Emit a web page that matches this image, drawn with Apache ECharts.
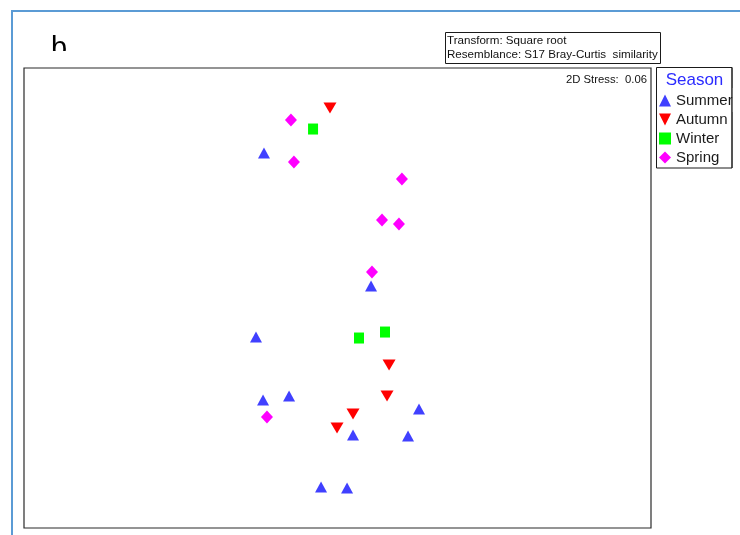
<!DOCTYPE html>
<html>
<head>
<meta charset="utf-8">
<script src="https://cdn.jsdelivr.net/npm/echarts@6/dist/echarts.min.js"></script>
<style>
  html, body { margin: 0; padding: 0; background: #fff; }
  #chart { width: 740px; height: 535px; }
</style>
</head>
<body>
<div id="chart"></div>
<script>
// nMDS ordination coordinates (dimension 1, dimension 2) per season
const seasons = ['Summer', 'Autumn', 'Winter', 'Spring'];

const summer = [
  [-0.469, 0.946], [0.214, 0.078], [-0.520, -0.254], [-0.475, -0.665],
  [-0.309, -0.639], [0.520, -0.724], [0.099, -0.894], [0.450, -0.900],
  [-0.105, -1.233], [0.061, -1.239]
];
const autumn = [
  [-0.048, 1.239], [0.329, -0.437], [0.316, -0.639], [0.099, -0.757], [-0.003, -0.848]
];
const winter = [
  [-0.156, 1.102], [0.137, -0.261], [0.303, -0.222]
];
const spring = [
  [-0.297, 1.161], [-0.278, 0.887], [0.411, 0.776], [0.284, 0.509],
  [0.392, 0.483], [0.220, 0.170], [-0.450, -0.776]
];

const stressText = '2D Stress:  0.06';
const transformLines = ['Transform: Square root', 'Resemblance: S17 Bray-Curtis  similarity'];

const FONT = '"Liberation Sans", Arial, sans-serif';
const downTriangle = 'path://M0,0 L10,0 L5,10 Z';

const chart = echarts.init(document.getElementById('chart'), null, { renderer: 'canvas' });

const hiddenAxis = (min, max) => ({
  type: 'value', min: min, max: max,
  axisLine: { show: false }, axisTick: { show: false },
  axisLabel: { show: false }, splitLine: { show: false }
});

const option = {
  backgroundColor: '#ffffff',
  animation: false,
  grid: {
    left: 24, top: 68, width: 627, height: 460,
    show: true, borderColor: '#2a2a2a', borderWidth: 1.2, backgroundColor: '#fff'
  },
  xAxis: hiddenAxis(-2, 2),
  yAxis: hiddenAxis(-1.5, 1.5),
  legend: {
    data: seasons,
    orient: 'vertical',
    left: 659, top: 93,
    itemWidth: 12, itemHeight: 12, itemGap: 4,
    padding: 0,
    textStyle: { fontSize: 15, lineHeight: 15, color: '#1a1a1a', fontFamily: FONT }
  },
  series: [
    { name: 'Summer', type: 'scatter', data: summer, symbol: 'triangle',
      symbolSize: [12, 11], itemStyle: { color: '#4040ff', opacity: 1 } },
    { name: 'Autumn', type: 'scatter', data: autumn, symbol: downTriangle,
      symbolSize: [13, 11], itemStyle: { color: '#ff0000', opacity: 1 } },
    { name: 'Winter', type: 'scatter', data: winter, symbol: 'rect',
      symbolSize: [10, 11], itemStyle: { color: '#00ff00', opacity: 1 } },
    { name: 'Spring', type: 'scatter', data: spring, symbol: 'diamond',
      symbolSize: [12, 13], itemStyle: { color: '#ff00ff', opacity: 1 } }
  ],
  graphic: [
    // outer frame
    { type: 'line', z: 50, shape: { x1: 12, y1: 11, x2: 12, y2: 535 },
      style: { stroke: '#5b9bd5', lineWidth: 2 } },
    { type: 'line', z: 50, shape: { x1: 11, y1: 11, x2: 740, y2: 11 },
      style: { stroke: '#5b9bd5', lineWidth: 2 } },
    // panel letter (lower part hidden under the frame edge)
    { type: 'text', z: 50, x: 51, y: 34,
      style: { text: 'b', fontSize: 29, fontFamily: FONT, fill: '#000', verticalAlign: 'top' } },
    { type: 'rect', z: 55, shape: { x: 40, y: 51, width: 40, height: 16 },
      style: { fill: '#fff' } },
    // transform / resemblance box
    { type: 'rect', z: 50, shape: { x: 445.5, y: 32.5, width: 215, height: 31 },
      style: { fill: '#fff', stroke: '#1a1a1a', lineWidth: 1 } },
    { type: 'text', z: 51, x: 447, y: 41,
      style: { text: transformLines[0], fontSize: 11.6, fontFamily: FONT, fill: '#111', verticalAlign: 'middle' } },
    { type: 'text', z: 51, x: 447, y: 54.5,
      style: { text: transformLines[1], fontSize: 11.6, fontFamily: FONT, fill: '#111', verticalAlign: 'middle' } },
    // stress value
    { type: 'text', z: 50, x: 647, y: 80,
      style: { text: stressText, fontSize: 11.3, fontFamily: FONT, fill: '#111', align: 'right', verticalAlign: 'middle' } },
    // legend frame and title
    { type: 'rect', z: 1, shape: { x: 656.5, y: 67.5, width: 75.5, height: 100.5 },
      style: { fill: '#fff', stroke: '#1a1a1a', lineWidth: 1 } },
    { type: 'rect', z: 60, shape: { x: 732.5, y: 88, width: 8, height: 24 },
      style: { fill: '#fff' } },
    { type: 'line', z: 61, shape: { x1: 732, y1: 67.5, x2: 732, y2: 168 },
      style: { stroke: '#1a1a1a', lineWidth: 1 } },
    { type: 'text', z: 50, x: 694.5, y: 80,
      style: { text: 'Season', fontSize: 17, fontFamily: FONT, fill: '#2b2bff', align: 'center', verticalAlign: 'middle' } }
  ]
};

chart.setOption(option);
</script>
</body>
</html>
